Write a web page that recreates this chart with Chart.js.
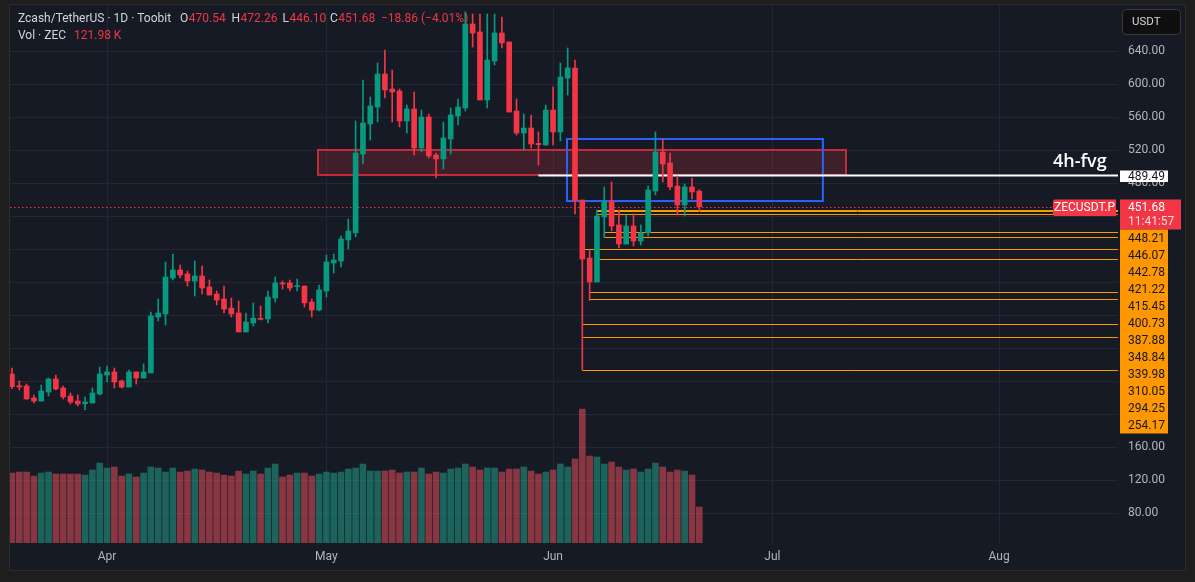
<!DOCTYPE html>
<html lang="en">
<head>
    <meta charset="UTF-8" />
    <meta name="viewport" content="width=device-width, initial-scale=1.0" />
    <title>Zcash/TetherUS 1D</title>

    <!-- Load Chart.js -->
    <script src="https://cdn.jsdelivr.net/npm/chart.js"></script>

    <style>
        html, body {
            margin: 0;
            padding: 0;
            background: #1e1e1e;
            overflow: hidden;
        }

        canvas {
            display: block;
        }
    </style>
</head>
<body>
    <canvas id="chart" width="1195" height="582"></canvas>

    <script>
        // daily candles, 19 Mar .. 21 Jun (index 0 = 19 Mar)
        const opens = [
            248.8, 234.7, 234.3, 219.8, 216.1, 227.0, 242.8, 231.9, 222.2, 216.1,
            212.9, 213.7, 224.6, 247.6, 251.3, 240.4, 233.1, 251.3, 244.0, 250.1,
            317.9, 321.6, 365.2, 374.9, 370.1, 361.6, 367.6, 354.3, 345.8, 339.8,
            328.8, 322.8, 299.8, 310.7, 316.3, 315.5, 341.0, 359.2, 359.2, 354.7,
            355.5, 336.1, 326.4, 349.5, 383.4, 385.8, 411.3, 420.0, 515.5, 551.9,
            572.5, 612.5, 594.3, 591.9, 555.5, 570.1, 522.8, 560.4, 514.3, 509.5,
            533.7, 561.6, 571.3, 673.1, 663.4, 581.0, 628.2, 662.2, 651.3, 567.6,
            541.0, 547.0, 528.4, 526.4, 568.8, 542.2, 607.6, 619.8, 459.7, 389.4,
            360.4, 439.2, 458.5, 429.5, 406.4, 428.2, 410.0, 419.8, 470.7, 517.9,
            504.6, 476.7, 453.7, 475.5, 470.54
        ];
        const highs = [
            256.1, 240.4, 236.7, 223.4, 235.5, 244.0, 247.6, 234.3, 225.8, 223.4,
            221.0, 231.9, 257.3, 258.5, 256.1, 241.6, 253.7, 251.3, 261.0, 324.0,
            339.8, 384.6, 394.3, 381.0, 373.7, 385.8, 379.8, 362.8, 349.4, 355.5,
            341.0, 337.3, 322.8, 334.9, 331.3, 349.4, 366.4, 361.6, 362.8, 364.0,
            355.5, 339.8, 356.7, 393.1, 394.3, 416.1, 436.7, 555.5, 605.2, 584.6,
            625.8, 641.6, 617.3, 594.3, 574.9, 590.7, 568.8, 564.0, 516.7, 554.3,
            571.3, 582.2, 687.6, 685.2, 685.2, 685.2, 685.2, 681.6, 651.3, 582.2,
            564.0, 562.8, 542.2, 574.9, 596.7, 625.8, 644.0, 629.5, 459.7, 399.1,
            447.6, 475.5, 481.6, 447.6, 441.6, 442.8, 429.5, 476.7, 542.2, 533.7,
            516.7, 488.8, 479.1, 486.4, 472.26
        ];
        const lows = [
            231.1, 229.5, 218.0, 213.7, 216.1, 222.2, 229.5, 218.6, 212.5, 210.1,
            205.2, 213.7, 223.4, 239.2, 231.9, 231.9, 233.1, 236.7, 244.0, 250.1,
            313.1, 308.2, 362.8, 365.2, 355.5, 343.4, 345.8, 344.6, 332.5, 322.8,
            317.9, 299.8, 299.8, 307.0, 314.3, 310.7, 336.1, 351.9, 349.4, 349.4,
            330.1, 317.9, 325.2, 342.2, 371.3, 378.5, 400.4, 415.0, 503.4, 532.5,
            554.3, 583.4, 554.3, 548.3, 540.9, 514.3, 517.9, 510.7, 486.4, 497.3,
            515.5, 550.7, 567.6, 645.2, 581.0, 571.3, 623.4, 644.0, 566.4, 538.5,
            520.4, 522.8, 502.2, 526.4, 526.4, 531.3, 587.0, 442.8, 254.17, 338.0,
            360.4, 414.9, 422.2, 401.6, 406.4, 404.0, 405.2, 416.1, 465.8, 481.6,
            471.9, 441.6, 440.4, 461.0, 446.10
        ];
        const closes = [
            233.5, 233.1, 218.6, 216.1, 228.3, 242.8, 230.7, 221.0, 214.9, 212.5,
            214.9, 225.8, 248.8, 251.3, 239.2, 233.1, 251.3, 244.0, 251.3, 319.2,
            322.8, 366.4, 374.9, 368.8, 361.6, 367.6, 353.1, 344.6, 338.5, 327.6,
            321.6, 299.8, 311.9, 316.7, 315.1, 342.2, 359.2, 358.0, 353.1, 355.9,
            335.0, 326.4, 350.7, 384.6, 387.0, 412.5, 422.2, 516.7, 553.1, 573.7,
            612.5, 593.1, 590.7, 555.5, 570.1, 522.8, 560.4, 513.1, 509.5, 534.9,
            562.8, 572.5, 673.1, 662.2, 581.0, 629.4, 662.2, 650.1, 566.4, 541.0,
            547.0, 527.6, 526.8, 568.8, 542.2, 608.8, 619.8, 458.5, 388.2, 360.4,
            440.4, 458.5, 428.2, 406.4, 428.2, 410.0, 419.8, 471.9, 517.9, 503.4,
            475.5, 453.7, 475.5, 469.5, 451.68
        ];
        // volume in thousands of ZEC
        const volumes = [
            237.2, 240.5, 240.5, 227.0, 237.2, 240.5, 233.8, 233.8, 233.8, 233.8,
            230.4, 247.3, 271.0, 254.1, 257.5, 227.0, 233.8, 223.6, 237.2, 257.5,
            254.1, 240.5, 254.1, 240.5, 243.9, 250.7, 247.3, 240.5, 237.2, 230.4,
            227.0, 243.9, 233.8, 243.9, 233.8, 254.1, 267.7, 223.6, 230.4, 237.2,
            237.2, 227.0, 233.8, 240.5, 237.2, 240.5, 250.7, 254.1, 267.7, 243.9,
            243.9, 243.9, 247.3, 237.2, 240.5, 240.5, 254.1, 233.8, 240.5, 237.2,
            250.7, 254.1, 267.7, 257.5, 247.3, 254.1, 254.1, 240.5, 250.7, 250.7,
            257.5, 243.9, 233.8, 240.5, 247.3, 267.7, 257.5, 284.6, 454.0, 294.8,
            291.4, 267.7, 274.4, 257.5, 247.3, 250.7, 240.5, 250.7, 271.0, 257.5,
            240.5, 247.3, 243.9, 230.4, 121.98
        ];

        const monthTicks = [13, 43, 74, 104, 135];
        const monthNames = ["Apr", "May", "Jun", "Jul", "Aug"];
        const priceTicks = [80, 120, 160, 200, 240, 280, 320, 360, 400, 440, 480, 520, 560, 600, 640];

        // drawings on the chart
        const levels = [448.21, 446.07, 442.78, 421.22, 415.45, 400.73, 387.88, 348.84, 339.98, 310.05, 294.25, 254.17];
        const levelFrom = [80, 80, 80, 81, 81, 78, 80, 79, 79, 78, 78, 78];
        const fvgBox = [41.85, 114.06, 490.1, 520.4];     // from, to, low, high
        const rangeBox = [75.9, 110.9, 458.5, 533.7];
        const fvgLevel = 489.49;
        const fvgLevelFrom = 72;
        const lastPrice = 451.68;

        const GREEN = "#089981";
        const RED = "#f23645";
        const GRID = "#232734";
        const FONT = "Roboto, 'Liberation Sans', sans-serif";

        const isUp = closes.map((c, i) => c >= opens[i]);
        const candleColors = isUp.map(u => u ? GREEN : RED);

        const frame = {
            id: "frame",
            beforeDraw(chart) {
                const c = chart.ctx;
                c.save();
                c.fillStyle = "#1e1e1e";
                c.fillRect(0, 0, chart.width, chart.height);
                c.fillStyle = "#161a25";
                c.fillRect(10, 5, 1175, 565);
                c.strokeStyle = "#2c2c2c";
                c.lineWidth = 1;
                c.strokeRect(9.5, 4.5, 1176, 566);
                c.restore();
            },
            beforeDatasetsDraw(chart) {
                const c = chart.ctx;
                const a = chart.chartArea;
                const x = chart.scales.x, y = chart.scales.y;
                c.save();
                c.beginPath();
                c.rect(a.left, a.top, a.right - a.left, a.bottom - a.top);
                c.clip();

                // red fvg box
                let x0 = x.getPixelForValue(fvgBox[0]), x1 = x.getPixelForValue(fvgBox[1]);
                let y0 = y.getPixelForValue(fvgBox[3]), y1 = y.getPixelForValue(fvgBox[2]);
                c.fillStyle = "rgba(242,54,69,0.18)";
                c.fillRect(x0, y0, x1 - x0, y1 - y0);
                c.strokeStyle = "#c22c3c";
                c.lineWidth = 2;
                c.strokeRect(x0, y0, x1 - x0, y1 - y0);

                // blue range box
                x0 = x.getPixelForValue(rangeBox[0]); x1 = x.getPixelForValue(rangeBox[1]);
                y0 = y.getPixelForValue(rangeBox[3]); y1 = y.getPixelForValue(rangeBox[2]);
                c.strokeStyle = "#2962ff";
                c.lineWidth = 2;
                c.strokeRect(x0, y0, x1 - x0, y1 - y0);

                // white 4h-fvg line
                let py = y.getPixelForValue(fvgLevel);
                c.strokeStyle = "#ffffff";
                c.lineWidth = 2;
                c.beginPath();
                c.moveTo(x.getPixelForValue(fvgLevelFrom), py);
                c.lineTo(a.right, py);
                c.stroke();

                // orange levels
                c.strokeStyle = "#ff9800";
                c.lineWidth = 1;
                levels.forEach((p, k) => {
                    const ly = Math.round(y.getPixelForValue(p)) + 0.5;
                    c.beginPath();
                    c.moveTo(x.getPixelForValue(levelFrom[k]), ly);
                    c.lineTo(a.right, ly);
                    c.stroke();
                });

                // last price dotted line
                py = Math.round(y.getPixelForValue(lastPrice)) + 0.5;
                c.strokeStyle = RED;
                c.setLineDash([1.5, 2.5]);
                c.beginPath();
                c.moveTo(a.left, py);
                c.lineTo(a.right, py);
                c.stroke();
                c.restore();
            },
            afterDraw(chart) {
                const c = chart.ctx;
                c.save();
                c.textBaseline = "middle";

                // legend
                c.font = "12px " + FONT;
                c.fillStyle = "#d1d4dc";
                c.fillText("Zcash/TetherUS · 1D · Toobit", 18, 19);
                const ohlc = [["O", 180, "470.54"], ["H", 231.5, "472.26"], ["L", 282.5, "446.10"], ["C", 330, "451.68"]];
                ohlc.forEach(([k, px, v]) => {
                    c.fillStyle = "#d1d4dc";
                    c.fillText(k, px, 19);
                    c.fillStyle = RED;
                    c.fillText(v, px + c.measureText(k).width + 0.5, 19);
                });
                c.fillText("\u221218.86 (\u22124.01%)", 381, 19);
                c.fillStyle = "#d1d4dc";
                c.fillText("Vol · ZEC", 18, 36);
                c.fillStyle = RED;
                c.fillText("121.98 K", 74, 36);

                // 4h-fvg text
                c.fillStyle = "#ffffff";
                c.font = "600 18px 'Open Sans', " + FONT;
                c.textBaseline = "alphabetic";
                c.fillText("4h-fvg", 1053, 167);
                c.textBaseline = "middle";

                // USDT button
                c.fillStyle = "#0f0f0f";
                c.strokeStyle = "#3a3a3a";
                c.lineWidth = 1;
                c.beginPath();
                c.roundRect(1122.5, 9.5, 58, 25, 4);
                c.fill();
                c.stroke();
                c.fillStyle = "#d1d4dc";
                c.font = "11.5px " + FONT;
                c.fillText("USDT", 1132, 22);

                c.font = "12px " + FONT;
                // white fvg price label
                c.fillStyle = "#ffffff";
                c.fillRect(1120, 170.5, 48, 11.5);
                c.fillStyle = "#131722";
                c.fillText(fvgLevel.toFixed(2), 1128, 176.5);

                // last price labels
                c.fillStyle = RED;
                c.beginPath();
                c.roundRect(1053, 199.5, 63, 16.5, [2, 0, 0, 2]);
                c.fill();
                c.fillRect(1120, 199.5, 61, 30);
                c.fillStyle = "#ffffff";
                c.textAlign = "center";
                c.fillText("ZECUSDT.P", 1084.5, 208);
                c.textAlign = "left";
                c.fillText(lastPrice.toFixed(2), 1128, 208);
                c.fillStyle = "rgba(255,255,255,0.82)";
                c.fillText("11:41:57", 1128, 222);

                // stacked level labels
                c.fillStyle = "#ff9800";
                c.fillRect(1120, 229.5, 48, 204);
                c.fillStyle = "#131722";
                levels.forEach((p, k) => {
                    c.fillText(p.toFixed(2), 1128, 238.5 + k * 17);
                });
                c.restore();
            }
        };

        const ctx = document.getElementById("chart").getContext("2d");
        const chart = new Chart(ctx, {
            type: "bar",
            data: {
                datasets: [
                    {
                        label: "body",
                        data: opens.map((o, i) => ({ x: i, y: [Math.min(o, closes[i]), Math.max(o, closes[i])] })),
                        backgroundColor: candleColors,
                        barThickness: 5,
                        minBarLength: 1,
                        grouped: false,
                        order: 1,
                        yAxisID: "y"
                    },
                    {
                        label: "wick",
                        data: lows.map((l, i) => ({ x: i, y: [l, highs[i]] })),
                        backgroundColor: candleColors,
                        barThickness: 1,
                        grouped: false,
                        order: 2,
                        yAxisID: "y"
                    },
                    {
                        label: "volume",
                        data: volumes.map((v, i) => ({ x: i, y: v })),
                        backgroundColor: isUp.map(u => u ? "rgba(34,171,148,0.5)" : "rgba(247,82,95,0.5)"),
                        barThickness: 6,
                        grouped: false,
                        order: 3,
                        yAxisID: "yv"
                    }
                ]
            },
            options: {
                responsive: false,
                animation: false,
                layout: { padding: { left: 10, top: 6, right: 0, bottom: 0 } },
                plugins: {
                    legend: { display: false },
                    tooltip: { enabled: false }
                },
                scales: {
                    x: {
                        type: "linear",
                        min: -0.27,
                        max: 151.26,
                        offset: false,
                        grid: { color: GRID, drawTicks: false, offset: false },
                        border: { display: false },
                        ticks: {
                            color: "#b2b5be",
                            font: { family: FONT, size: 12 },
                            padding: 7,
                            autoSkip: false,
                            maxRotation: 0,
                            callback: v => monthNames[monthTicks.indexOf(v)] || ""
                        },
                        afterBuildTicks: s => { s.ticks = monthTicks.map(v => ({ value: v })); },
                        afterFit: s => {
                            s.height = 39;
                            s.paddingLeft = 0;
                            s.paddingRight = 0;
                        }
                    },
                    y: {
                        type: "linear",
                        position: "right",
                        min: 44,
                        max: 694.9,
                        grid: { color: GRID, drawTicks: false },
                        border: { display: false },
                        ticks: {
                            color: "#b2b5be",
                            font: { family: FONT, size: 12 },
                            padding: 10,
                            callback: v => Number(v).toFixed(2)
                        },
                        afterBuildTicks: s => { s.ticks = priceTicks.map(v => ({ value: v })); },
                        afterFit: s => {
                            s.width = 77;
                            s.paddingTop = 0;
                            s.paddingBottom = 0;
                        }
                    },
                    yv: {
                        type: "linear",
                        display: false,
                        min: 0,
                        max: 1820
                    }
                }
            },
            plugins: [frame]
        });
    </script>
</body>
</html>
